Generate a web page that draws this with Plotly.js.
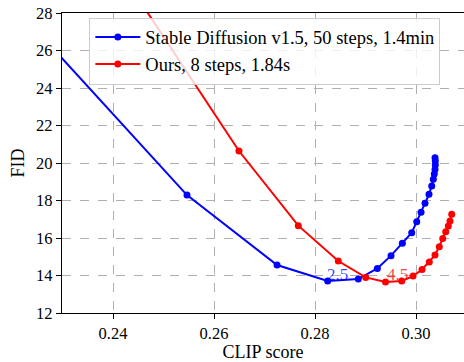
<!DOCTYPE html>
<html>
<head>
<meta charset="utf-8">
<script src="https://cdn.plot.ly/plotly-3.0.1.min.js"></script>
<style>html,body{margin:0;padding:0;overflow:hidden;background:#fff;}#chart{width:464px;height:362px;}</style>
</head>
<body>
<div id="chart"></div>
<script>
// Stable Diffusion v1.5 (guidance sweep)
const sdClip = [0.2200, 0.25465, 0.27248, 0.28251, 0.28857, 0.29234, 0.29505, 0.29729, 0.29915, 0.30014, 0.30099, 0.30178, 0.30257, 0.30311, 0.30343, 0.30362, 0.30376, 0.30382, 0.30382, 0.30376];
const sdFid  = [28.50, 18.29, 14.56, 13.71, 13.81, 14.38, 15.06, 15.72, 16.28, 16.87, 17.37, 17.85, 18.33, 18.77, 19.13, 19.41, 19.66, 19.89, 20.11, 20.28];
// Ours, 8 steps
const oursClip = [0.2420, 0.26495, 0.27669, 0.28461, 0.29004, 0.29396, 0.29717, 0.29941, 0.30119, 0.30263, 0.30376, 0.30461, 0.30529, 0.30588, 0.30640, 0.30673, 0.30707];
const oursFid  = [30.00, 20.64, 16.66, 14.77, 13.90, 13.65, 13.71, 13.97, 14.32, 14.72, 15.09, 15.54, 15.98, 16.34, 16.64, 16.91, 17.26];
const seriesNames = ["Stable Diffusion v1.5, 50 steps, 1.4min", "Ours, 8 steps, 1.84s"];
// point labels
const labelText = ["2.5", "4.5"];
const labelClip = [0.28446, 0.29624];
const labelFid  = [14.03, 14.03];

const xTicks = [0.24, 0.26, 0.28, 0.30];
const yTicks = [12, 14, 16, 18, 20, 22, 24, 26, 28];

const serif = "Liberation Serif, Times New Roman, serif";

const traces = [
  {x: sdClip, y: sdFid, name: seriesNames[0], mode: "lines+markers", type: "scatter",
   line: {color: "#0000ff", width: 2}, marker: {color: "#0000ff", size: 7}},
  {x: oursClip, y: oursFid, name: seriesNames[1], mode: "lines+markers", type: "scatter",
   line: {color: "#ff0000", width: 2}, marker: {color: "#ff0000", size: 7}}
];

const layout = {
  width: 464, height: 362,
  margin: {l: 62, r: 0, t: 13, b: 49, pad: 0},
  paper_bgcolor: "#ffffff", plot_bgcolor: "#ffffff",
  font: {family: serif, size: 16, color: "#000"},
  showlegend: true,
  legend: {x: 0.068, y: 0.985, xanchor: "left", yanchor: "top", itemwidth: 45,
    bgcolor: "rgba(255,255,255,0.8)", bordercolor: "#cccccc", borderwidth: 1,
    font: {family: serif, size: 18.5, color: "#000"}, tracegroupgap: 0},
  xaxis: {range: [0.2299, 0.3095], tickvals: xTicks, ticktext: xTicks.map(v => v.toFixed(2)),
    showgrid: true, gridcolor: "#b0b0b0", griddash: "dash", gridwidth: 1,
    showline: true, linecolor: "#000", linewidth: 1.2, mirror: true,
    ticks: "outside", ticklen: 5, tickcolor: "#000", zeroline: false,
    tickfont: {family: serif, size: 16.5},
    title: {text: "CLIP score", font: {family: serif, size: 18}, standoff: 4}},
  yaxis: {range: [12, 28], tickvals: yTicks,
    showgrid: true, gridcolor: "#b0b0b0", griddash: "dash", gridwidth: 1,
    showline: true, linecolor: "#000", linewidth: 1.2, mirror: false,
    ticks: "outside", ticklen: 5, tickcolor: "#000", zeroline: false,
    tickfont: {family: serif, size: 16.5},
    title: {text: "FID", font: {family: serif, size: 18}, standoff: 6}},
  annotations: labelText.map((t, i) => ({
    x: labelClip[i], y: labelFid[i], xref: "x", yref: "y", text: t, showarrow: false,
    font: {family: serif, size: 17, color: i === 0 ? "rgba(0,0,255,0.75)" : "rgba(255,0,0,0.75)"}
  }))
};

Plotly.newPlot("chart", traces, layout, {displayModeBar: false, staticPlot: true});
</script>
</body>
</html>
